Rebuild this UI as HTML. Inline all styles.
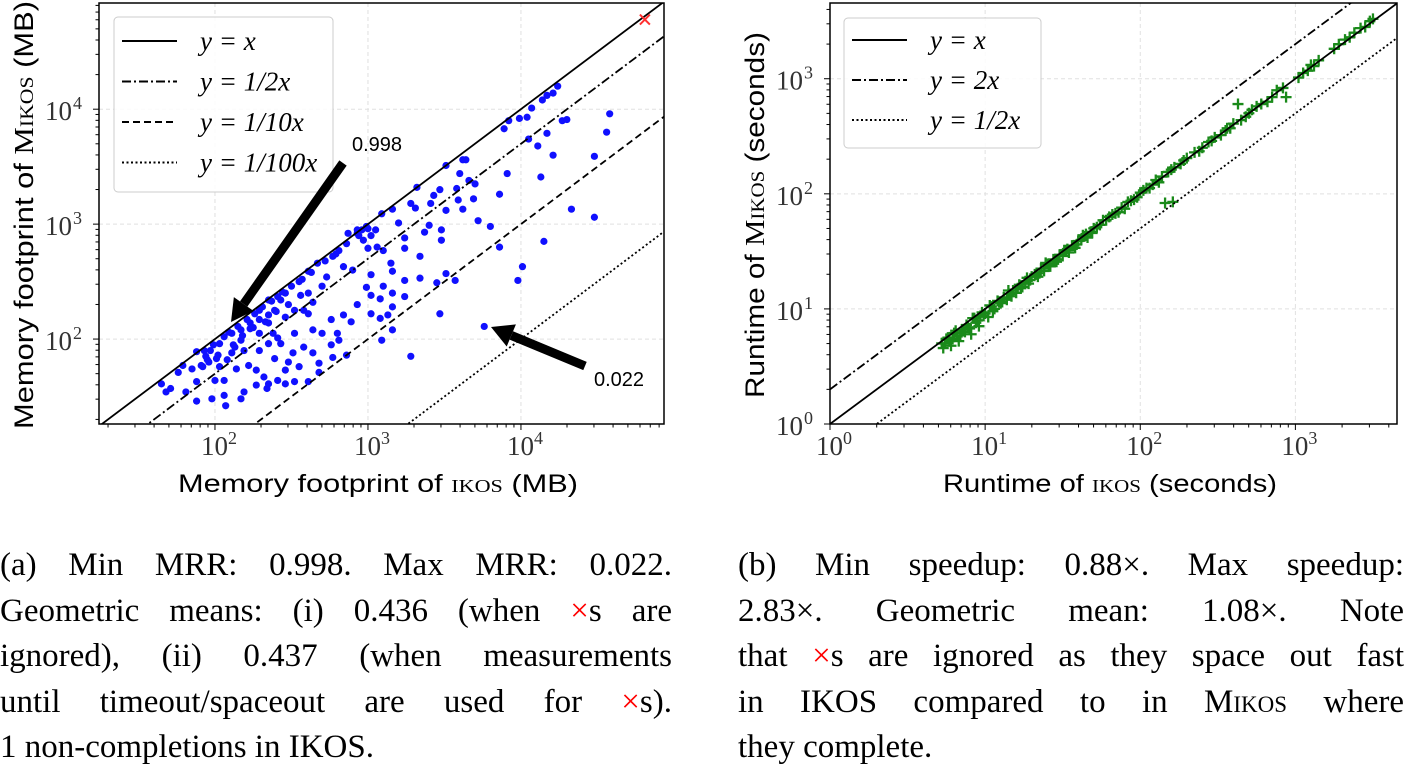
<!DOCTYPE html>
<html><head><meta charset="utf-8"><style>
html,body{margin:0;padding:0;background:#fff;}
body{width:1404px;height:760px;position:relative;overflow:hidden;}
svg{position:absolute;left:0;top:0;}
.cap{position:absolute;font-family:"Liberation Serif",serif;font-size:33px;color:#000;}
.ln{height:45.5px;line-height:45.5px;text-align:justify;text-align-last:justify;white-space:nowrap;}
.ln.last{text-align-last:left;}
.red{color:#f00;}
.sc{font-variant:small-caps;}
</style></head><body>
<svg id="chart" width="1404" height="520"></svg>

<div class="cap" style="left:0;top:543px;width:672px;">
<div class="ln">(a) Min MRR: 0.998. Max MRR: 0.022.</div>
<div class="ln">Geometric means: (i) 0.436 (when <span class="red">×</span>s are</div>
<div class="ln">ignored), (ii) 0.437 (when measurements</div>
<div class="ln">until timeout/spaceout are used for <span class="red">×</span>s).</div>
<div class="ln last">1 non-completions in IKOS.</div>
</div>
<div class="cap" style="left:738px;top:543px;width:666px;">
<div class="ln">(b) Min speedup: 0.88×. Max speedup:</div>
<div class="ln">2.83×. Geometric mean: 1.08×. Note</div>
<div class="ln">that <span class="red">×</span>s are ignored as they space out fast</div>
<div class="ln">in IKOS compared to in M<span class="sc">ikos</span> where</div>
<div class="ln last">they complete.</div>
</div>

<script>
// ---- Data (log10 exponents) ----
const memIkosExp = [4.24,4.21,4.17,4.14,4.07,4.04,3.99,3.92,3.89,4.27,4.30,4.58,4.05,4.17,4.11,4.56,4.21,4.48,4.13,3.91,3.86,3.64,3.62,3.60,3.51,3.66,3.70,3.58,3.47,3.43,3.59,3.69,3.32,3.28,3.31,3.41,3.51,3.62,3.72,3.80,4.33,4.48,3.48,3.48,3.37,3.40,3.86,4.15,4.01,3.98,3.51,3.57,3.45,3.47,3.76,3.28,3.09,3.16,3.34,3.24,3.24,3.20,3.16,3.09,3.05,3.02,2.99,2.96,2.93,2.97,3.00,3.06,3.10,3.15,3.16,3.10,3.02,2.99,3.02,3.08,3.16,3.24,3.34,3.24,3.16,3.13,3.08,3.02,2.93,2.84,2.89,2.81,2.80,2.86,2.77,2.76,2.68,2.68,2.61,2.55,2.52,2.48,2.46,2.41,2.35,2.34,2.32,2.27,2.19,2.17,2.06,1.98,1.88,2.07,2.00,1.88,1.81,1.71,1.65,1.68,1.76,1.79,1.85,1.91,1.95,1.97,2.03,2.06,2.11,2.17,2.23,2.29,2.35,2.39,2.41,2.46,2.55,2.61,2.67,2.73,2.77,2.81,2.87,2.93,2.84,2.90,2.70,2.61,2.64,2.61,2.52,2.46,2.43,2.35,2.29,2.23,2.35,2.38,2.43,2.51,2.58,2.64,2.70,2.76,2.64,2.58,2.35,2.29,2.19,2.11,2.08,2.01,1.94,1.92,2.03,2.06,2.14,2.22,2.27,2.39,2.46,1.88,2.41,2.52,2.29,2.17,2.13,1.93,1.99,2.09,2.15,2.21,2.26,2.31,2.37,2.44,2.50,2.57,2.63,2.72,2.79,2.86,2.94,3.00,1.96,2.02,2.12,2.18,2.25,2.33,2.40,2.48,2.56];
const memMikosExp = [4.20,4.14,4.12,4.08,4.01,3.93,3.92,3.90,3.83,3.90,3.91,3.96,3.74,3.79,3.68,3.80,3.60,3.59,3.41,3.44,3.26,3.56,3.56,3.44,3.51,3.38,3.35,3.31,3.30,3.25,3.21,3.22,3.32,3.18,3.14,3.18,3.12,3.13,3.03,2.98,3.13,3.06,2.95,2.86,2.93,2.99,2.80,2.85,2.63,2.51,2.57,2.51,2.49,2.22,2.11,1.85,1.99,2.08,2.72,2.79,2.88,3.01,3.13,3.09,2.95,2.90,2.98,2.95,2.92,2.86,2.79,2.80,2.77,2.66,2.59,2.46,2.56,2.45,2.38,2.35,2.40,2.51,2.53,2.37,2.28,2.21,2.18,2.22,2.30,2.21,2.15,1.99,2.05,1.86,1.84,1.95,1.79,1.71,1.63,1.76,1.63,1.80,1.61,1.64,1.61,1.57,1.67,1.60,1.54,1.48,1.51,1.48,1.46,1.42,1.64,1.63,1.54,1.57,1.61,1.54,1.71,1.77,1.74,1.77,1.82,1.90,1.96,2.02,2.05,2.08,2.09,2.17,2.21,2.25,2.37,2.40,2.50,2.59,2.66,2.54,2.72,2.77,2.92,2.95,2.63,2.60,2.46,2.40,2.32,2.22,2.25,2.19,2.34,2.34,2.25,2.14,2.14,2.05,1.96,1.88,1.93,1.88,2.05,2.17,2.08,2.25,1.96,1.90,1.90,1.88,1.82,1.83,1.85,1.76,1.76,1.64,1.74,1.77,1.73,1.83,1.73,1.89,2.01,2.05,2.05,1.99,1.93,1.90,1.95,2.06,2.11,2.17,2.22,2.28,2.33,2.41,2.46,2.52,2.58,2.68,2.74,2.83,2.90,2.96,1.80,1.86,1.95,2.03,2.10,2.15,2.24,2.30,2.38];
const memTimeoutIkosExp = [4.81];
const memTimeoutMikosExp = [4.78];
const memRefRatios = [1, 0.5, 0.1, 0.01];
const memXTicks = [2,3,4];
const memYTicks = [2,3,4];

const rtIkosExp = [0.72,0.73,0.75,0.77,0.78,0.80,0.82,0.83,0.85,0.87,0.88,0.90,0.91,0.93,0.95,0.96,0.98,1.00,1.02,1.04,1.06,1.08,1.10,1.12,1.14,1.16,1.18,1.20,1.22,1.24,1.26,1.28,1.30,1.32,1.34,1.36,1.38,1.40,1.42,1.44,1.46,1.48,1.50,1.52,1.54,1.56,1.58,1.60,1.62,1.64,1.66,1.68,1.70,1.74,1.78,1.80,1.84,1.88,1.90,1.94,1.98,2.00,2.04,2.08,2.10,2.14,2.18,2.16,2.21,2.22,2.26,2.30,2.35,2.40,2.44,2.48,2.52,2.55,2.58,2.60,2.63,2.65,2.70,2.75,2.78,2.82,2.85,2.94,2.88,2.92,3.02,3.05,3.08,3.10,3.15,3.25,3.28,3.32,3.38,3.42,3.45,3.48,3.50,0.74,0.79,0.84,0.89,0.94,0.99,1.05,1.11,1.17,1.23,1.29,1.35,1.41,1.47,1.53,1.59,1.65,1.72,1.82,1.96,2.06,2.12,2.28,2.46,2.68,0.76,0.81,0.86,0.92,0.97,1.03,1.09,1.15,1.21,1.27,1.33,1.39,1.45,1.51,1.57,1.63,1.69,1.76,1.86,1.92,2.02,2.20,2.38,2.56,2.72,3.12,3.35];
const rtMikosExp = [0.70,0.66,0.74,0.72,0.68,0.79,0.76,0.72,0.82,0.80,0.86,0.83,0.78,0.92,0.90,0.85,0.97,0.96,0.93,1.02,1.00,1.07,1.05,1.10,1.08,1.13,1.16,1.14,1.21,1.19,1.24,1.22,1.28,1.30,1.28,1.35,1.33,1.39,1.37,1.43,1.41,1.47,1.46,1.51,1.49,1.55,1.53,1.59,1.60,1.63,1.62,1.67,1.70,1.73,1.77,1.80,1.83,1.88,1.87,1.94,1.97,2.01,2.05,2.08,2.12,2.15,2.19,1.92,1.93,2.23,2.26,2.31,2.36,2.40,2.45,2.49,2.51,2.55,2.57,2.61,2.78,2.64,2.70,2.76,2.78,2.80,2.84,2.84,2.90,2.92,3.01,3.05,3.07,3.12,3.16,3.26,3.30,3.34,3.40,3.44,3.45,3.50,3.52,0.70,0.74,0.77,0.84,0.88,0.94,0.98,1.06,1.11,1.18,1.25,1.31,1.38,1.43,1.52,1.56,1.65,1.71,1.82,1.95,2.05,2.10,2.29,2.46,2.67,0.75,0.81,0.82,0.92,0.94,1.03,1.06,1.16,1.18,1.27,1.30,1.40,1.42,1.51,1.55,1.64,1.66,1.77,1.84,1.93,2.03,2.21,2.37,2.57,2.73,3.11,3.36];
const rtRefRatios = [1, 2, 0.5];
const rtXTicks = [0,1,2,3];
const rtYTicks = [0,1,2,3];

const NS = "http://www.w3.org/2000/svg";
const svg = document.getElementById('chart');
function mk(tag, attrs, parent){ const e=document.createElementNS(NS,tag); for(const k in attrs) e.setAttribute(k,attrs[k]); (parent||svg).appendChild(e); return e; }

function makeAxes(o){
  const sx = v => o.x0 + (v - o.xmin)/(o.xmax - o.xmin)*(o.x1 - o.x0);
  const sy = v => o.y0 - (v - o.ymin)/(o.ymax - o.ymin)*(o.y0 - o.y1);
  return {sx, sy};
}

function drawPanel(o){
  const {sx, sy} = makeAxes(o);
  const g = mk('g', {});
  
  
  const clipId = o.name + '-clip';
  const cp = mk('clipPath', {id: clipId}, g);
  mk('rect', {x:o.x0, y:o.y1, width:o.x1-o.x0, height:o.y0-o.y1}, cp);
  o.xTicks.forEach(t => { const l = mk('line', {x1:sx(t), x2:sx(t), y1:o.y1, y2:o.y0, stroke:'#e0e0e0', 'stroke-width':1, 'stroke-dasharray':'4,3'}, g);
      });
  o.yTicks.forEach(t => { const l = mk('line', {x1:o.x0, x2:o.x1, y1:sy(t), y2:sy(t), stroke:'#e0e0e0', 'stroke-width':1, 'stroke-dasharray':'4,3'}, g);
      });
  const pts = mk('g', {'clip-path':'url(#'+clipId+')'}, g);
  
  
  o.xs.forEach((xv,i) => {
    const px = sx(xv), py = sy(o.ys[i]);
    if(o.marker === 'dot'){
      const c = mk('circle', {cx:px, cy:py, r:3.6, fill:'#1010ff'}, pts);
       
    } else {
      const p = mk('path', {d:`M${px-5.5},${py}H${px+5.5}M${px},${py-5.5}V${py+5.5}`, stroke:'#1a8a1a', 'stroke-width':2.3}, pts);
       
    }
  });
  const lg = mk('g', {'clip-path':'url(#'+clipId+')'}, g);
  o.ratios.forEach((r,i) => {
    const off = Math.log10(r);
    const l = mk('line', {x1:sx(o.xmin), y1:sy(o.xmin+off), x2:sx(o.xmax), y2:sy(o.xmax+off), stroke:'#000', 'stroke-width':1.8, 'stroke-dasharray':o.dashes[i]}, lg);
    
    
  });
  if(o.xMarkX){ o.xMarkX.forEach((xv,i)=>{ const px=sx(xv), py=sy(o.xMarkY[i]);
    const p = mk('path', {d:`M${px-5},${py-5}L${px+5},${py+5}M${px+5},${py-5}L${px-5},${py+5}`, stroke:'#ff3030', 'stroke-width':2}, g);
      }); }
  const fr = mk('rect', {x:o.x0, y:o.y1, width:o.x1-o.x0, height:o.y0-o.y1, fill:'none', stroke:'#000', 'stroke-width':1.5}, g);
   
  for(let d=Math.floor(o.xmin); d<=Math.ceil(o.xmax); d++){
    for(let m=1;m<10;m++){ const v=d+Math.log10(m); if(v<o.xmin||v>o.xmax) continue;
      const len = m===1?6:3.5;
      mk('line',{x1:sx(v),x2:sx(v),y1:o.y0,y2:o.y0+len,stroke:'#000','stroke-width':1},g); }
  }
  for(let d=Math.floor(o.ymin); d<=Math.ceil(o.ymax); d++){
    for(let m=1;m<10;m++){ const v=d+Math.log10(m); if(v<o.ymin||v>o.ymax) continue;
      const len = m===1?6:3.5;
      mk('line',{y1:sy(v),y2:sy(v),x1:o.x0,x2:o.x0-len,stroke:'#000','stroke-width':1},g); }
  }
  o.xTicks.forEach(t => { const tx = mk('text',{x:sx(t)+4, y:o.y0+31, 'font-family':'Liberation Serif, serif', 'font-size':27, fill:'#333', 'text-anchor':'middle'}, g);
     
    tx.textContent='10'; const s=mk('tspan',{dy:-11,'font-size':18},tx); s.textContent=String(t); });
  o.yTicks.forEach(t => { const tx = mk('text',{x:o.x0-27, y:sy(t)+11, 'font-family':'Liberation Serif, serif', 'font-size':27, fill:'#333', 'text-anchor':'end'}, g);
     
    tx.textContent='10'; const s=mk('tspan',{x:o.x0-17, dy:-11,'font-size':18},tx); s.textContent=String(t); });
  const xt = mk('text',{x:o.xl.x, y:492, 'font-family':'Liberation Sans, sans-serif', 'font-size':25, fill:'#000', 'text-anchor':'middle', textLength:o.xl.len, lengthAdjust:'spacingAndGlyphs'}, g);
   
  xt.innerHTML = o.xl.html;
  const yt = mk('text',{x:0, y:0, transform:`translate(${o.yl.x},${o.yl.y}) rotate(-90)`, 'font-family':'Liberation Sans, sans-serif', 'font-size':27, fill:'#000', 'text-anchor':'middle', textLength:o.yl.len, lengthAdjust:'spacingAndGlyphs'}, g);
   
  yt.innerHTML = o.yl.html;
  const L = o.legend;
  const lb = mk('rect',{x:L.x, y:L.y, width:L.w, height:L.h, rx:4, fill:'#fff', 'fill-opacity':0.85, stroke:'#ccc', 'stroke-width':1}, g);
   
  o.labels.forEach((lab,i) => {
    const yy = L.y + L.first + i*L.step;
    const ll = mk('line',{x1:L.x+8, x2:L.x+63, y1:yy, y2:yy, stroke:'#000', 'stroke-width':2, 'stroke-dasharray':o.dashes[i]}, g);
     
    const tx = mk('text',{x:L.x+86, y:yy+9, 'font-family':'Liberation Serif, serif', 'font-style':'italic', 'font-size':27, fill:'#000'}, g);
     
    tx.textContent = lab;
  });
}

drawPanel({name:'memory-chart', x0:99, x1:664, y0:424, y1:3, xmin:1.242, xmax:4.935, ymin:1.261, ymax:4.924,
  xs:memIkosExp, ys:memMikosExp, marker:'dot', xMarkX:memTimeoutIkosExp, xMarkY:memTimeoutMikosExp,
  xTicks:memXTicks, yTicks:memYTicks, ratios:memRefRatios,
  dashes:['none','9,3,2,3','7,4','2,2.5'], labels:['y = x','y = 1/2x','y = 1/10x','y = 1/100x'],
  legend:{x:114, y:17, w:219, h:175, first:24, step:40.5},
  xl:{x:378, len:400, html:'Memory footprint of <tspan font-family="Liberation Serif, serif" style="font-variant:small-caps">ikos</tspan> (MB)'},
  yl:{x:33, y:215, len:428, html:'Memory footprint of <tspan font-family="Liberation Serif, serif">M</tspan><tspan font-family="Liberation Serif, serif" style="font-variant:small-caps">ikos</tspan> (MB)'}
});
drawPanel({name:'runtime-chart', x0:830, x1:1397, y0:424, y1:3, xmin:0, xmax:3.655, ymin:0, ymax:3.658,
  xs:rtIkosExp, ys:rtMikosExp, marker:'plus',
  xTicks:rtXTicks, yTicks:rtYTicks, ratios:rtRefRatios,
  dashes:['none','9,3,2,3','2,2.5'], labels:['y = x','y = 2x','y = 1/2x'],
  legend:{x:844, y:18, w:197, h:130, first:22, step:40},
  xl:{x:1110, len:334, html:'Runtime of <tspan font-family="Liberation Serif, serif" style="font-variant:small-caps">ikos</tspan> (seconds)'},
  yl:{x:764, y:215, len:366, html:'Runtime of <tspan font-family="Liberation Serif, serif">M</tspan><tspan font-family="Liberation Serif, serif" style="font-variant:small-caps">ikos</tspan> (seconds)'}
});

function arrow(x1,y1,x2,y2,name){
  const ang = Math.atan2(y2-y1,x2-x1), hl=22, hw=12;
  const bx = x2 - hl*Math.cos(ang), by = y2 - hl*Math.sin(ang);
  const g = mk('g',{});
  
  
  mk('line',{x1:x1,y1:y1,x2:bx,y2:by,stroke:'#000','stroke-width':9},g);
  const nx=-Math.sin(ang), ny=Math.cos(ang);
  mk('polygon',{points:`${x2},${y2} ${bx+nx*hw},${by+ny*hw} ${bx-nx*hw},${by-ny*hw}`, fill:'#000'},g);
}
arrow(343,163,231,322,'arrow-min-mrr');
arrow(585,366,491,327,'arrow-max-mrr');
const a1 = mk('text',{x:352,y:151,'font-family':'Liberation Sans, sans-serif','font-size':20,fill:'#000'});
  a1.textContent='0.998';
const a2 = mk('text',{x:594,y:386,'font-family':'Liberation Sans, sans-serif','font-size':20,fill:'#000'});
  a2.textContent='0.022';
</script>
</body></html>
